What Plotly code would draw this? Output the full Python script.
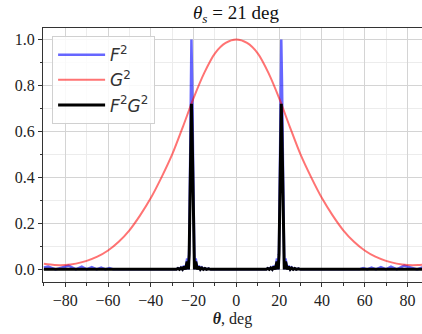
import plotly.graph_objects as go

# Element pattern G^2 (read every 5 deg)
theta_g = [-90, -85, -80, -75, -70, -65, -60, -55, -50, -45, -40, -35, -30, -25, -20, -15, -10, -5,
           0, 5, 10, 15, 20, 25, 30, 35, 40, 45, 50, 55, 60, 65, 70, 75, 80, 85, 90]
g2 = [0.024, 0.019, 0.019, 0.025, 0.037, 0.055, 0.082, 0.12, 0.17, 0.235, 0.31, 0.40, 0.50, 0.62, 0.745, 0.855, 0.94, 0.985,
      1.0, 0.985, 0.94, 0.855, 0.745, 0.62, 0.50, 0.40, 0.31, 0.235, 0.17, 0.12, 0.082, 0.055, 0.037, 0.025, 0.019, 0.019, 0.024]

# Array factor F^2 and product F^2 G^2
theta_far_left = [-90, -88, -84.5, -78.5, -75, -72.3, -70, -67.6, -65.3, -63.2, -61.2, -59.3, -57.5, -50, -40, -33]
f2_far_left = [0.008, 0.012, 0.0, 0.016, 0.0, 0.012, 0.0, 0.010, 0.0, 0.008, 0.0, 0.006, 0.0, 0.0, 0.0, 0.0]
fg_far_left = [0.0] * 16

theta_spike_left = [-30, -29, -28, -27.3, -26.6, -25.9, -25.2, -24.5, -23.8, -23.0, -22.4, -22.05, -21.7, -21.35,
                    -21.0, -20.65, -20.3, -19.95, -19.6, -19.0, -18.2, -17.5, -16.8, -16.1, -15.4, -14.7, -14.0, -13, -12]
theta_mid = [-5, 0, 5]
theta_spike_right = [12, 13, 14.0, 14.7, 15.4, 16.1, 16.8, 17.5, 18.2, 19.0, 19.6, 19.95, 20.3, 20.65,
                     21.0, 21.35, 21.7, 22.05, 22.4, 23.0, 23.8, 24.5, 25.2, 25.9, 26.6, 27.3, 28, 29, 30]
theta_far_right = [33, 40, 50, 57.5, 59.3, 61.2, 63.2, 65.3, 67.6, 70, 72.3, 75, 78.5, 84.5, 88, 90]

f2_spike = [0, 0.003, 0, 0.005, 0, 0.008, 0, 0.016, 0, 0.047, 0, 0.09, 0.405, 0.81,
            1.0, 0.81, 0.405, 0.09, 0, 0.047, 0, 0.016, 0, 0.008, 0, 0.005, 0, 0.003, 0]
fg_spike = [0, 0.002, 0, 0.0036, 0, 0.006, 0, 0.012, 0, 0.034, 0, 0.065, 0.29, 0.58,
            0.72, 0.58, 0.29, 0.065, 0, 0.034, 0, 0.012, 0, 0.006, 0, 0.0036, 0, 0.002, 0]
f2_mid = [0.0, 0.0, 0.0]
fg_mid = [0.0, 0.0, 0.0]
f2_far_right = [0.0, 0.0, 0.0, 0.0, 0.006, 0.0, 0.008, 0.0, 0.010, 0.0, 0.012, 0.0, 0.016, 0.0, 0.012, 0.008]
fg_far_right = [0.0] * 16

theta_f = theta_far_left + theta_spike_left + theta_mid + theta_spike_right + theta_far_right
f2 = f2_far_left + f2_spike + f2_mid + f2_spike + f2_far_right
f2g2 = fg_far_left + fg_spike + fg_mid + fg_spike + fg_far_right

x_ticks = [-80, -60, -40, -20, 0, 20, 40, 60, 80]
y_ticks = [0.0, 0.2, 0.4, 0.6, 0.8, 1.0]

fig = go.Figure()
fig.add_trace(go.Scatter(x=theta_f, y=f2, mode="lines", name="<i>F</i><sup>2</sup>", legendgroup="a",
                         line=dict(color="rgba(0,0,255,0.6)", width=2.5)))
fig.add_trace(go.Scatter(x=theta_g, y=g2, mode="lines", name="<i>G</i><sup>2</sup>", legendgroup="b",
                         line=dict(color="rgba(255,0,0,0.55)", width=2, shape="spline", smoothing=0.8)))
fig.add_trace(go.Scatter(x=theta_f, y=f2g2, mode="lines", name="<i>F</i><sup>2</sup><i>G</i><sup>2</sup>", legendgroup="c",
                         line=dict(color="black", width=3)))

serif = "Liberation Serif, Times New Roman, serif"
fig.update_layout(
    width=422, height=334,
    margin=dict(l=43, r=0, t=28, b=52),
    paper_bgcolor="white", plot_bgcolor="white",
    showlegend=True,
    legend=dict(x=0.024, y=0.968, xanchor="left", yanchor="top", tracegroupgap=0, itemwidth=47,
                bgcolor="rgba(255,255,255,0.85)", bordercolor="#d0d0d0", borderwidth=1,
                font=dict(family="DejaVu Sans", size=17, color="#333")),
    font=dict(family=serif, size=15, color="#222"),
)
fig.update_xaxes(range=[-90.4, 86.8], tickvals=x_ticks, ticks="outside", ticklen=4, tickcolor="#333",
                 showline=True, linecolor="#333", linewidth=1, mirror=True,
                 showgrid=True, gridcolor="#d4d4d4", gridwidth=1, zeroline=False,
                 minor=dict(dtick=10, tick0=0, ticks="outside", ticklen=2.5, tickcolor="#333",
                            showgrid=True, gridcolor="#ececec"),
                 tickfont=dict(family=serif, size=16, color="#222"),
                 title=dict(text="<b><i>θ</i></b>, deg", font=dict(family=serif, size=16, color="#222"), standoff=4))
fig.update_yaxes(range=[-0.055, 1.05], tickvals=y_ticks, tickformat=".1f", ticks="outside", ticklen=4, tickcolor="#333",
                 showline=True, linecolor="#333", linewidth=1, mirror=True,
                 showgrid=True, gridcolor="#d4d4d4", gridwidth=1, zeroline=False,
                 minor=dict(dtick=0.1, tick0=0, ticks="outside", ticklen=2.5, tickcolor="#333",
                            showgrid=True, gridcolor="#ececec"),
                 tickfont=dict(family=serif, size=16, color="#222"))
fig.add_annotation(x=0, y=1.0, xref="x", yref="paper", yanchor="bottom", yshift=0, showarrow=False,
                   text="<i>θ<sub>s</sub></i> = 21 deg", font=dict(family=serif, size=19, color="#111"))
fig.write_html("out.html")
